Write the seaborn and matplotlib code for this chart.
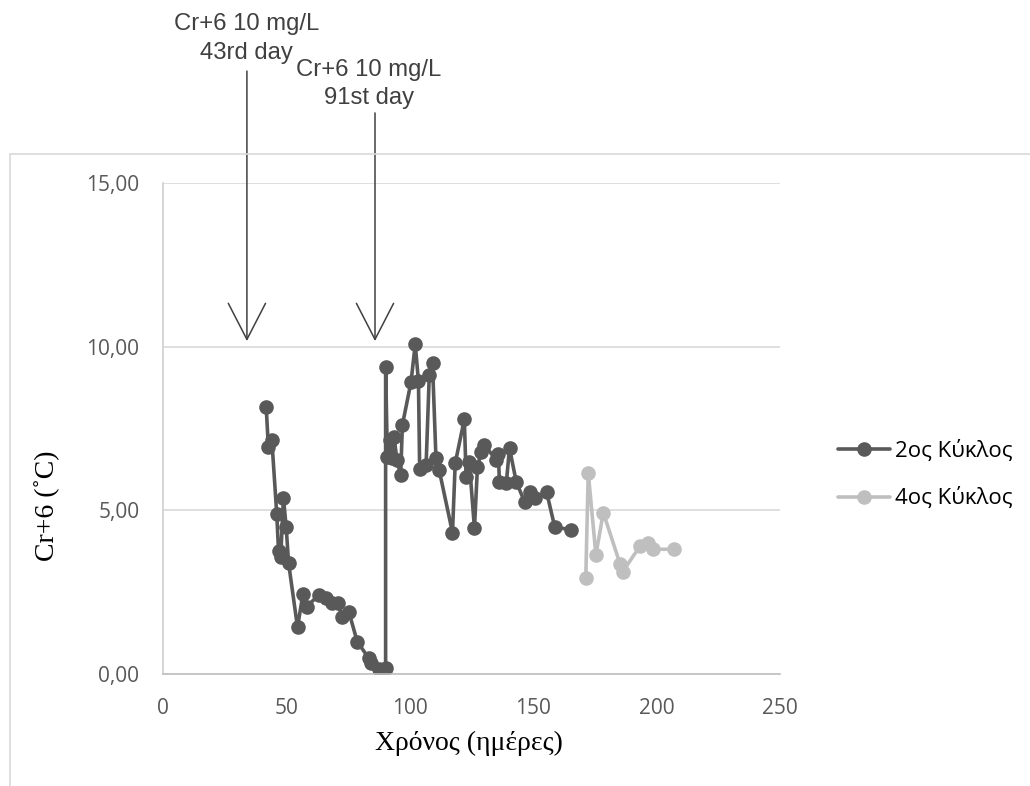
import matplotlib
matplotlib.use("Agg")
import matplotlib.pyplot as plt
from matplotlib.patches import Rectangle
import numpy as np
import pandas as pd
import seaborn as sns

# Cr+6 concentration per day, two treatment cycles
days_cycle2 = [41.8, 42.7, 44.1, 46.1, 46.8, 47.7, 48.8, 49.9, 50.9, 54.5,
               56.7, 58.2, 63.1, 65.9, 68.5, 70.9, 72.6, 75.3, 78.7, 83.4,
               84.1, 87.5, 90.2, 90.2, 90.9, 92.0, 92.8, 93.6, 94.8, 96.3,
               97.0, 100.5, 102.2, 103.5, 104.0, 106.6, 107.9, 109.2, 110.6, 111.9,
               117.3, 118.4, 122.1, 122.8, 124.1, 126.2, 127.4, 128.9, 130.2, 135.0,
               135.9, 136.3, 139.1, 140.4, 143.1, 146.5, 148.6, 150.6, 155.4, 158.7,
               165.2]
cr_cycle2 = [8.17, 6.93, 7.15, 4.88, 3.77, 3.58, 5.37, 4.50, 3.38, 1.43,
             2.44, 2.06, 2.41, 2.32, 2.16, 2.16, 1.75, 1.90, 0.99, 0.48,
             0.33, 0.14, 0.17, 9.39, 6.64, 7.15, 6.60, 7.24, 6.54, 6.08,
             7.61, 8.92, 10.08, 8.95, 6.25, 6.39, 9.14, 9.49, 6.59, 6.23,
             4.32, 6.44, 7.78, 6.03, 6.49, 4.45, 6.31, 6.79, 7.00, 6.54,
             6.72, 5.88, 5.83, 6.90, 5.88, 5.26, 5.57, 5.37, 5.57, 4.50,
             4.40]

days_cycle4 = [171.3, 172.3, 175.4, 178.4, 185.2, 186.3, 193.3, 196.7, 198.7, 206.9]
cr_cycle4 = [2.92, 6.15, 3.64, 4.93, 3.36, 3.13, 3.91, 4.01, 3.81, 3.81]

series_names = ["2ος Κύκλος", "4ος Κύκλος"]
series_colors = ["#595959", "#BFBFBF"]

x_ticks = [0, 50, 100, 150, 200, 250]
x_tick_labels = ["0", "50", "100", "150", "200", "250"]
y_ticks = [0, 5, 10, 15]
y_tick_labels = ["0,00", "5,00", "10,00", "15,00"]

# Dosing events: (arrow x in days, text)
dose_days = [34.0, 85.9]
dose_labels = ["Cr+6 10 mg/L\n43rd day", "Cr+6 10 mg/L\n91st day"]

df = pd.concat([
    pd.DataFrame({"day": days_cycle2, "cr": cr_cycle2, "cycle": series_names[0]}),
    pd.DataFrame({"day": days_cycle4, "cr": cr_cycle4, "cycle": series_names[1]}),
], ignore_index=True)

sns.set_style("white")
plt.rcParams["font.family"] = ["Open Sans", "DejaVu Sans"]

W, H = 1030, 786
fig = plt.figure(figsize=(W / 100, H / 100), dpi=100)
ax = fig.add_axes([163 / W, 1 - 674 / H, (780 - 163) / W, (674 - 183) / H])

# chart border
fig.patches.append(Rectangle((10 / W, -0.02), 1.0, 1 - 154 / H + 0.02,
                             transform=fig.transFigure, fill=False,
                             edgecolor="#D9D9D9", linewidth=1.2, zorder=0))

sns.lineplot(data=df, x="day", y="cr", hue="cycle", hue_order=series_names,
             palette=series_colors, sort=False, estimator=None, ax=ax,
             marker="o", markersize=10.5, markeredgewidth=0,
             linewidth=2.6, legend=False)

ax.set_xlim(0, 250)
ax.set_ylim(0, 15)
ax.set_xticks(x_ticks)
ax.set_xticklabels(x_tick_labels)
ax.set_yticks(y_ticks)
ax.set_yticklabels(y_tick_labels)
ax.tick_params(axis="both", length=0, labelsize=15, colors="#595959")
ax.tick_params(axis="y", pad=17)
ax.tick_params(axis="x", pad=17)
ax.set_xlabel("")
ax.set_ylabel("")

ax.yaxis.grid(True, color="#D9D9D9", linewidth=1.2)
ax.xaxis.grid(False)
for side in ("top", "right"):
    ax.spines[side].set_visible(False)
ax.spines["left"].set_color("#D0D0D0")
ax.spines["bottom"].set_color("#BFBFBF")
ax.spines["left"].set_linewidth(1.2)
ax.spines["bottom"].set_linewidth(1.2)

serif = ["Liberation Serif", "DejaVu Serif"]
fig.text(469 / W, 1 - 743 / H, "Χρόνος (ημέρες)", ha="center", va="center",
         fontsize=20, family=serif, color="black")
fig.text(47 / W, 1 - 506 / H, "Cr+6 (˚C)", ha="center", va="center",
         rotation=90, fontsize=20, family=serif, color="black")

# dosing arrows with labels above the plot
arrow_tops = [18.42, 17.14]
label_y = [19.41, 18.03]
label_x = [34.0, 83.5]
for xd, top, lab, lx, ly in zip(dose_days, arrow_tops, dose_labels, label_x, label_y):
    ax.annotate("", xy=(xd, 10.17), xytext=(xd, top), xycoords="data",
                textcoords="data", annotation_clip=False,
                arrowprops=dict(arrowstyle="->,head_length=1.3,head_width=0.67",
                                mutation_scale=20, color="#404040", lw=1.1,
                                shrinkA=0, shrinkB=0))
    ax.text(lx, ly, lab, ha="center", va="center", fontsize=17.2,
            family=["Liberation Sans", "DejaVu Sans"], color="#404040",
            linespacing=1.38, clip_on=False)

leg = fig.legend(handles=ax.lines[:2], labels=series_names, loc="center left",
                 bbox_to_anchor=(838 / W, 1 - 474.5 / H), frameon=False,
                 fontsize=16, handlelength=2.35, handletextpad=0.22,
                 labelspacing=1.15, borderpad=0, borderaxespad=0)
for t in leg.get_texts():
    t.set_color("black")

fig.savefig("out.png", dpi=100, facecolor="white")
